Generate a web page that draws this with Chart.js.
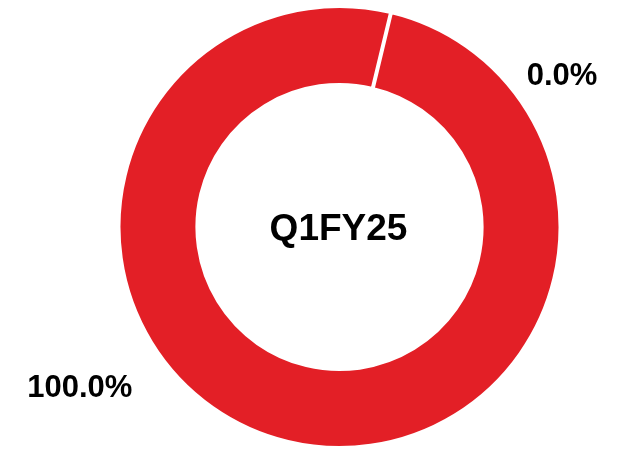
<!DOCTYPE html>
<html>
<head>
<meta charset="utf-8">
<script src="https://cdn.jsdelivr.net/npm/chart.js@4.4.1/dist/chart.umd.min.js"></script>
<style>
  html, body { margin: 0; padding: 0; background: #fff; }
  #wrap { width: 618px; height: 450px; }
</style>
</head>
<body>
<div id="wrap"><canvas id="chart"></canvas></div>
<script>
// chart data
const categories = ['Share', 'Other'];
const shareValues = [100, 0];
const valueLabels = ['100.0%', '0.0%'];
const centerTitle = 'Q1FY25';

// Outside labels + title in the hole
const labelPlugin = {
  id: 'donutLabels',
  afterDraw(chart, args, opts) {
    const arc = chart.getDatasetMeta(0).data[0];
    if (!arc) return;
    const { x, y } = arc;
    const ctx = chart.ctx;
    ctx.save();
    ctx.fillStyle = '#000';
    ctx.textAlign = 'center';
    ctx.textBaseline = 'middle';

    ctx.font = 'bold 37px "Liberation Sans", Arial, sans-serif';
    ctx.fillText(centerTitle, x - 1, y + 3);

    // label placement: angle (deg, clockwise from top) and distance from centre
    ctx.font = 'bold 31px "Liberation Sans", Arial, sans-serif';
    opts.spots.forEach((s, i) => {
      const a = (s.angle - 90) * Math.PI / 180;
      ctx.fillText(valueLabels[i], x + Math.cos(a) * s.dist, y + Math.sin(a) * s.dist + 2);
    });
    ctx.restore();
  }
};

new Chart(document.getElementById('chart'), {
  type: 'doughnut',
  data: {
    labels: categories,
    datasets: [{
      data: shareValues,
      backgroundColor: ['#e31f26', '#e31f26'],
      borderColor: '#ffffff',
      borderWidth: 4
    }]
  },
  options: {
    responsive: true,
    maintainAspectRatio: false,
    animation: false,
    rotation: 13.5,
    cutout: '64.3%',
    layout: { padding: { left: 61, right: 0, top: 4, bottom: 0 } },
    plugins: {
      legend: { display: false },
      tooltip: { enabled: false },
      donutLabels: {
        spots: [
          { angle: 238.4, dist: 305 },
          { angle: 55.5, dist: 270 }
        ]
      }
    }
  },
  plugins: [labelPlugin]
});
</script>
</body>
</html>
